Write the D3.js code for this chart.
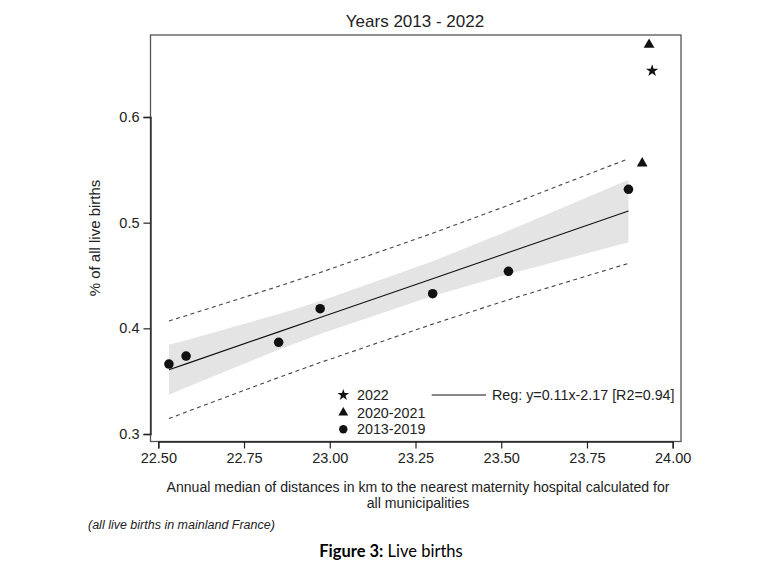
<!DOCTYPE html>
<html lang='en'>
  <head>
    <meta charset="UTF-8">
    <title>Live births vs distance to maternity hospital</title>
    <script src="https://cdn.jsdelivr.net/npm/d3@7"></script>
    <style type="text/css">
      body { margin: 0; background: #fff; font-family: "Liberation Sans", Arial, sans-serif; }
    </style>
  </head>
<body>
<script>

// points
var distPre = [22.531, 22.581, 22.851, 22.972, 23.300, 23.521, 23.871]; // 2013-2019
var birthsPre = [0.3662, 0.3738, 0.3868, 0.4186, 0.4328, 0.4540, 0.5316];
var distCovid = [23.911, 23.931];   // 2020-2021
var birthsCovid = [0.5562, 0.6684];
var dist2022 = [23.940];
var births2022 = [0.6438];

var xTicks = [22.5, 22.75, 23.0, 23.25, 23.5, 23.75, 24.0];
var yTicks = [0.3, 0.4, 0.5, 0.6];
var legendLabels = ["2022", "2020-2021", "2013-2019"];
var regLabel = "Reg: y=0.11x-2.17 [R2=0.94]";
var tCrit = 2.571; // t(0.975, df=5)

var W = 783, H = 571;
var svg = d3.select("body").append("svg").attr("width", W).attr("height", H);

var x = d3.scaleLinear().domain([22.5, 24]).range([158.3, 672.7]);
var y = d3.scaleLinear().domain([0.3, 0.6]).range([434, 117]);
var box = {l: 150.5, r: 681, t: 35, b: 441.5};

// least squares fit on 2013-2019
var n = distPre.length;
var mx = d3.mean(distPre), my = d3.mean(birthsPre);
var sxx = d3.sum(distPre, function(d){ return (d-mx)*(d-mx); });
var sxy = d3.sum(distPre, function(d,i){ return (d-mx)*(birthsPre[i]-my); });
var b = sxy/sxx, a = my - b*mx;
var sse = d3.sum(distPre, function(d,i){ var r = birthsPre[i]-(a+b*d); return r*r; });
var s = Math.sqrt(sse/(n-2));
var fit = distPre.map(function(d){
	var f = a + b*d;
	var h = 1/n + (d-mx)*(d-mx)/sxx;
	return {x: d, f: f, ci: tCrit*s*Math.sqrt(h), pi: tCrit*s*Math.sqrt(1+h)};
});

// CI band
svg.append("path")
	.datum(fit)
	.attr("fill", "#e4e4e4")
	.attr("d", d3.area()
		.x(function(d){ return x(d.x); })
		.y0(function(d){ return y(d.f-d.ci); })
		.y1(function(d){ return y(d.f+d.ci); }));

// prediction interval
[-1, 1].forEach(function(sg){
	svg.append("path")
		.datum(fit)
		.attr("fill", "none")
		.attr("stroke", "#444")
		.attr("stroke-width", 1.1)
		.attr("stroke-dasharray", "4,3.5")
		.attr("d", d3.line()
			.x(function(d){ return x(d.x); })
			.y(function(d){ return y(d.f + sg*d.pi); }));
});

// fitted line
svg.append("path")
	.datum(fit)
	.attr("fill", "none")
	.attr("stroke", "#111")
	.attr("stroke-width", 1.1)
	.attr("d", d3.line()
		.x(function(d){ return x(d.x); })
		.y(function(d){ return y(d.f); }));

// frame
svg.append("rect")
	.attr("x", box.l).attr("y", box.t)
	.attr("width", box.r-box.l).attr("height", box.b-box.t)
	.attr("fill", "none").attr("stroke", "#555").attr("stroke-width", 1.3);

// axes
var xAxis = svg.append("g").attr("transform", "translate(0," + box.b + ")")
	.call(d3.axisBottom(x).tickValues(xTicks).tickFormat(d3.format(".2f")).tickSize(7).tickPadding(4));
var yAxis = svg.append("g").attr("transform", "translate(" + box.l + ",0)")
	.call(d3.axisLeft(y).tickValues(yTicks).tickFormat(d3.format(".1f")).tickSize(7).tickPadding(4));
[xAxis, yAxis].forEach(function(g){
	g.select(".domain").attr("stroke", "#222").attr("stroke-width", 1.3);
	g.selectAll(".tick line").attr("stroke", "#222").attr("stroke-width", 1.2);
	g.selectAll("text").attr("font-family", "Liberation Sans, Arial, sans-serif")
		.attr("font-size", 14.5).attr("fill", "#222");
});

// markers
function sym(type, size){ return d3.symbol().type(type).size(size)(); }
svg.selectAll(".pre").data(distPre).enter().append("path")
	.attr("transform", function(d,i){ return "translate(" + x(d) + "," + y(birthsPre[i]) + ")"; })
	.attr("d", sym(d3.symbolCircle, 72)).attr("fill", "#111");
svg.selectAll(".cov").data(distCovid).enter().append("path")
	.attr("transform", function(d,i){ return "translate(" + x(d) + "," + y(birthsCovid[i]) + ")"; })
	.attr("d", sym(d3.symbolTriangle, 50)).attr("fill", "#111");
svg.selectAll(".y22").data(dist2022).enter().append("path")
	.attr("transform", function(d,i){ return "translate(" + x(d) + "," + y(births2022[i]) + ")"; })
	.attr("d", sym(d3.symbolStar, 48)).attr("fill", "#111");

// legend
var legY = [395, 412.7, 429.3];
var legSym = [[d3.symbolStar, 42], [d3.symbolTriangle, 42], [d3.symbolCircle, 56]];
legendLabels.forEach(function(t, i){
	svg.append("path")
		.attr("transform", "translate(343.3," + legY[i] + ")")
		.attr("d", sym(legSym[i][0], legSym[i][1])).attr("fill", "#111");
	svg.append("text").attr("x", 357).attr("y", legY[i]).attr("dy", "0.36em")
		.attr("font-size", 14.3).attr("fill", "#222").text(t);
});
svg.append("line").attr("x1", 431.7).attr("x2", 486).attr("y1", legY[0]).attr("y2", legY[0])
	.attr("stroke", "#111").attr("stroke-width", 1.1);
svg.append("text").attr("x", 492).attr("y", legY[0]).attr("dy", "0.36em")
	.attr("font-size", 14.3).attr("fill", "#222").text(regLabel);

// titles
svg.append("text").attr("x", 415).attr("y", 21).attr("dy", "0.36em")
	.attr("text-anchor", "middle").attr("font-size", 17).attr("fill", "#222")
	.text("Years 2013 - 2022");
svg.append("text").attr("transform", "translate(95,238) rotate(-90)")
	.attr("text-anchor", "middle").attr("dy", "0.36em")
	.attr("font-size", 15).attr("fill", "#222").text("% of all live births");
svg.append("text").attr("x", 418).attr("y", 487).attr("dy", "0.36em")
	.attr("text-anchor", "middle").attr("font-size", 14.1).attr("fill", "#222")
	.text("Annual median of distances in km to the nearest maternity hospital calculated for");
svg.append("text").attr("x", 418).attr("y", 503).attr("dy", "0.36em")
	.attr("text-anchor", "middle").attr("font-size", 14.1).attr("fill", "#222")
	.text("all municipalities");
svg.append("text").attr("x", 88).attr("y", 524).attr("dy", "0.36em")
	.attr("font-size", 12.5).attr("font-style", "italic").attr("fill", "#222")
	.text("(all live births in mainland France)");

var cap = svg.append("text").attr("x", 391).attr("y", 551).attr("dy", "0.36em")
	.attr("text-anchor", "middle").attr("font-family", "Lato, sans-serif")
	.attr("font-size", 16.5).attr("fill", "#000");
cap.append("tspan").attr("font-weight", "bold").text("Figure 3:");
cap.append("tspan").text(" Live births");

</script>
</body>
</html>
